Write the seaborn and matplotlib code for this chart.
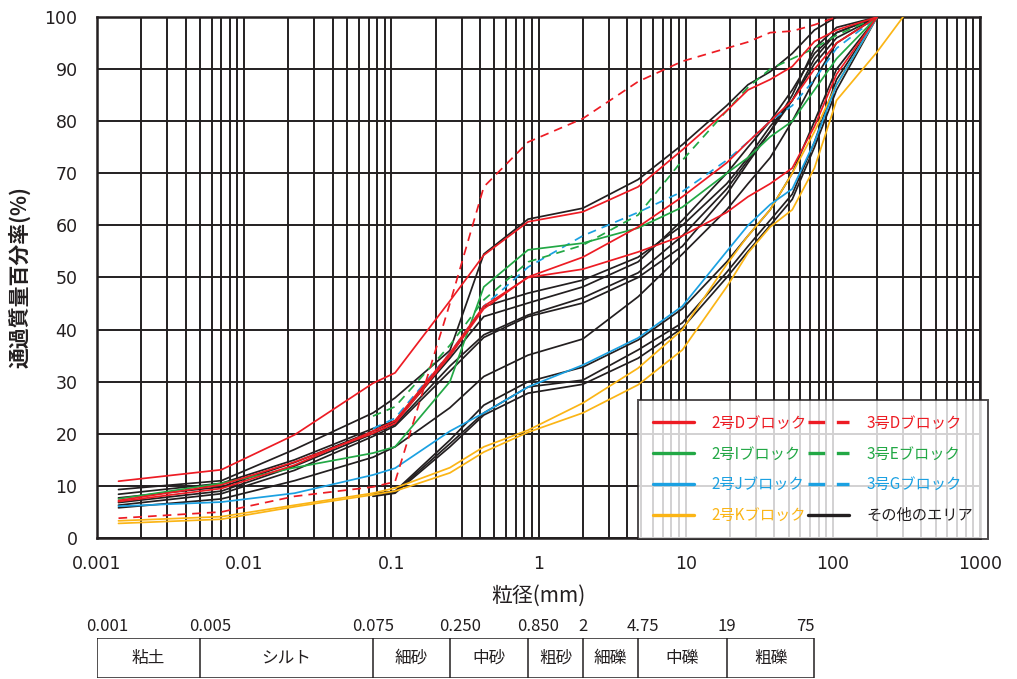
import numpy as np
import pandas as pd
import matplotlib
matplotlib.use("Agg")
import matplotlib.pyplot as plt
from matplotlib.lines import Line2D
from matplotlib.ticker import LogLocator, FixedLocator, FixedFormatter, NullFormatter
from matplotlib.transforms import offset_copy
import seaborn as sns

# ---------------- data ----------------
sizes = [0.0014, 0.007, 0.022, 0.075, 0.106, 0.25, 0.425, 0.85, 2, 4.75, 9.5,
         19, 26.5, 37.5, 53, 75, 106, 200, 300]
N = None
# 2号Dブロック (red solid)
d2_a = [10.9, 13.1, 19.8, 29.7, 31.7, 45.5, 54.3, 60.7, 62.6, 67.4, 74.5, 82.0, 86.0, 88.0, 90.5, 95.3, 97.5, 100, N]
d2_b = [7.2, 10.2, 14.6, 20.1, 22.0, 35.0, 44.0, 50.1, 53.9, 59.7, 65.5, 72.0, 76.0, 80.0, 84.0, 90.0, 95.0, 100, N]
d2_c = [7.0, 9.5, 14.0, 20.5, 22.5, 35.5, 44.5, 50.0, 51.6, 54.9, 58.0, 62.5, 65.5, 68.0, 71.0, 79.0, 89.0, 100, N]
# 3号Dブロック (red dashed)
d3 = [3.8, 5.0, 8.0, 9.8, 10.8, 45.0, 67.4, 76.0, 80.5, 87.6, 91.5, 94.0, 95.2, 97.0, 97.3, 98.5, 100, N, N]
# 2号Iブロック (green solid)
i2 = [7.5, 10.5, 13.5, 16.3, 17.5, 30.0, 48.2, 55.3, 56.6, 59.5, 63.5, 70.0, 73.0, 77.0, 80.0, 86.0, 92.0, 100, N]
# 3号Eブロック (green dashed)
e3 = [N, N, N, 23.4, 25.2, 37.0, 45.7, 53.0, 56.2, 62.0, 72.5, 82.0, 86.5, 90.0, 92.0, 94.0, 96.5, 100, N]
# 2号Jブロック (blue solid)
j2 = [6.1, 6.9, 8.6, 12.1, 13.4, 20.5, 24.0, 29.0, 33.2, 38.4, 44.5, 55.0, 60.0, 64.0, 67.0, 76.0, 87.0, 100, N]
# 3号Gブロック (blue dashed)
g3 = [N, N, N, 21.0, 23.0, 35.5, 44.5, 52.0, 58.0, 62.5, 66.5, 72.5, 76.0, 80.0, 83.0, 88.0, 94.0, 100, N]
# 2号Kブロック (yellow solid)
k2_a = [3.3, 4.1, 6.3, 8.6, 9.6, 13.5, 17.5, 20.7, 25.9, 32.6, 40.0, 52.5, 58.0, 63.0, 70.0, 78.0, 87.0, 100, N]
k2_b = [2.8, 3.6, 6.0, 8.3, 9.0, 12.5, 16.5, 20.3, 24.0, 29.4, 36.1, 48.2, 54.7, 59.7, 63.0, 71.0, 84.0, 93.3, 100]
# その他のエリア (black)
o_1 = [9.3, 11.0, 17.0, 24.0, 26.9, 36.0, 54.5, 61.2, 63.3, 68.8, 75.5, 83.0, 87.0, 89.5, 93.0, 97.5, 100, N, N]
o_2 = [8.4, 10.5, 15.0, 21.0, 22.5, 35.0, 44.4, 47.0, 49.5, 53.9, 60.0, 68.0, 73.0, 79.0, 84.0, 91.0, 96.0, 100, N]
o_3 = [7.7, 9.8, 14.5, 20.5, 22.3, 34.5, 42.5, 45.1, 48.2, 53.0, 61.0, 70.0, 75.0, 80.0, 86.0, 93.0, 97.0, 100, N]
o_4 = [6.8, 9.0, 13.8, 20.0, 21.8, 33.0, 39.0, 42.8, 46.1, 50.9, 58.0, 67.0, 72.5, 78.0, 84.0, 92.0, 97.0, 100, N]
o_5 = [6.3, 8.5, 13.0, 19.5, 21.5, 32.0, 38.5, 42.5, 45.1, 50.0, 56.0, 66.0, 72.0, 78.0, 85.0, 94.0, 98.0, 100, N]
o_6 = [5.8, 7.5, 11.0, 15.5, 17.5, 25.0, 31.0, 35.1, 38.2, 46.3, 54.5, 63.0, 68.0, 73.0, 80.0, 88.0, 95.0, 100, N]
o_7 = [N, N, N, 8.5, 9.0, 18.8, 25.5, 30.0, 32.8, 38.0, 44.0, 53.0, 58.0, 63.0, 70.0, 80.0, 90.0, 100, N]
o_8 = [N, N, N, 8.3, 8.8, 18.1, 24.0, 29.0, 30.3, 36.1, 41.3, 51.0, 56.0, 61.0, 66.0, 76.0, 88.0, 100, N]
o_9 = [N, N, N, 8.0, 8.6, 17.5, 23.6, 27.8, 29.5, 34.5, 40.3, 50.0, 55.0, 60.0, 65.0, 75.0, 86.0, 100, N]

x_ticks = [0.001, 0.01, 0.1, 1, 10, 100, 1000]
x_ticklabels = ["0.001", "0.01", "0.1", "1", "10", "100", "1000"]
y_ticks = list(range(0, 101, 10))

# soil classification table
class_bounds = [0.001, 0.005, 0.075, 0.25, 0.85, 2, 4.75, 19, 75]
class_bound_labels = ["0.001", "0.005", "0.075", "0.250", "0.850", "2", "4.75", "19", "75"]
class_names = ["粘土", "シルト", "細砂", "中砂", "粗砂", "細礫", "中礫", "粗礫"]

# ---------------- styles ----------------
RED, GREEN, BLUE, YEL, BLK = "#ED1C24", "#22A845", "#1BA1E2", "#FBB516", "#231F20"
DASH = (0, (5, 3.5))
series = [
    ("その他のエリア", [o_1, o_2, o_3, o_4, o_5, o_6, o_7, o_8, o_9], BLK, "-"),
    ("2号Kブロック", [k2_a, k2_b], YEL, "-"),
    ("2号Jブロック", [j2], BLUE, "-"),
    ("3号Gブロック", [g3], BLUE, DASH),
    ("2号Iブロック", [i2], GREEN, "-"),
    ("3号Eブロック", [e3], GREEN, DASH),
    ("2号Dブロック", [d2_a, d2_b, d2_c], RED, "-"),
    ("3号Dブロック", [d3], RED, DASH),
]

rows = []
for name, curves, _, _ in series:
    for k, c in enumerate(curves):
        for s, v in zip(sizes, c):
            if v is not None:
                rows.append((name, f"{name}_{k}", s, v))
df = pd.DataFrame(rows, columns=["group", "curve", "size", "pct"])

sns.set_theme(style="white")
plt.rcParams["font.family"] = ["Noto Sans CJK JP", "DejaVu Sans"]

W, H = 1017, 679
fig = plt.figure(figsize=(W / 100, H / 100), dpi=100)
L, R, T, B = 97, 980, 17, 538
ax = fig.add_axes([L / W, 1 - B / H, (R - L) / W, (B - T) / H])
ax.set_xscale("log")

for name, curves, color, ls in series:
    sub = df[df["group"] == name]
    for cid in sub["curve"].unique():
        sns.lineplot(data=sub[sub["curve"] == cid], x="size", y="pct", color=color,
                     linestyle=ls, linewidth=1.25, estimator=None, sort=False,
                     ax=ax, legend=False, zorder=3)

ax.set_xlim(0.001, 1000)
ax.set_ylim(0, 100)
ax.xaxis.set_major_locator(FixedLocator(x_ticks))
ax.xaxis.set_major_formatter(FixedFormatter(x_ticklabels))
ax.xaxis.set_minor_locator(LogLocator(base=10, subs=np.arange(2, 10)))
ax.xaxis.set_minor_formatter(NullFormatter())
ax.yaxis.set_major_locator(FixedLocator(y_ticks))
ax.grid(True, which="both", axis="x", color=BLK, linewidth=1.4, zorder=0)
ax.grid(True, which="major", axis="y", color=BLK, linewidth=1.4, zorder=0)
ax.set_axisbelow(True)
for sp in ax.spines.values():
    sp.set_color(BLK)
    sp.set_linewidth(1.8)
ax.tick_params(axis="both", which="both", length=0, labelsize=12.5, colors=BLK)
ax.tick_params(axis="y", pad=14)
ax.tick_params(axis="x", pad=12)
for lab in ax.get_xticklabels() + ax.get_yticklabels():
    lab.set_family("DejaVu Sans")
ax.set_xlabel("粒径(mm)", fontsize=15, labelpad=9, color=BLK)
ax.set_ylabel("通過質量百分率(%)", fontsize=15, fontweight="bold", labelpad=10, color=BLK)

# legend
order = ["2号Dブロック", "2号Iブロック", "2号Jブロック", "2号Kブロック",
         "3号Dブロック", "3号Eブロック", "3号Gブロック", "その他のエリア"]
style = {n: (c, ls) for n, _, c, ls in series}
handles = [Line2D([0], [0], color=style[n][0], linestyle=style[n][1], linewidth=2.4) for n in order]
leg = ax.legend(handles, order, ncol=2, loc="lower left", bbox_to_anchor=(0.611, -0.004),
                fontsize=11, labelcolor="linecolor", frameon=True, fancybox=False,
                handlelength=2.7, handletextpad=1.15, columnspacing=0.1,
                labelspacing=0.9, borderpad=0.95, borderaxespad=0.1)
leg.get_frame().set_edgecolor(BLK)
leg.get_frame().set_linewidth(1.4)
leg.set_zorder(5)

# classification table aligned to the log grain-size scale
tab = fig.add_axes([L / W, 1 / H, (R - L) / W, 40 / H])
tab.set_xscale("log")
tab.set_xlim(0.001, 1000)
tab.set_ylim(0, 1)
tab.axis("off")
tab.vlines(class_bounds, 0, 1, color=BLK, linewidth=1.1)
tab.hlines([0, 1], class_bounds[0], class_bounds[-1], color=BLK, linewidth=1.1)
for lo, hi, nm in zip(class_bounds[:-1], class_bounds[1:], class_names):
    tab.text(np.sqrt(lo * hi), 0.5, nm, ha="center", va="center", fontsize=12, color=BLK)
aligns = ["left", "left", "center", "left", "left", "center", "left", "center", "right"]
for b, lab, al in zip(class_bounds, class_bound_labels, aligns):
    dx = -11 if al == "left" else 0
    tr = offset_copy(tab.transData, fig=fig, x=dx, y=0, units="dots")
    tab.text(b, 1.28, lab, ha=al, va="center", fontsize=12, color=BLK, transform=tr,
             clip_on=False)

fig.savefig("out.png", dpi=100)
